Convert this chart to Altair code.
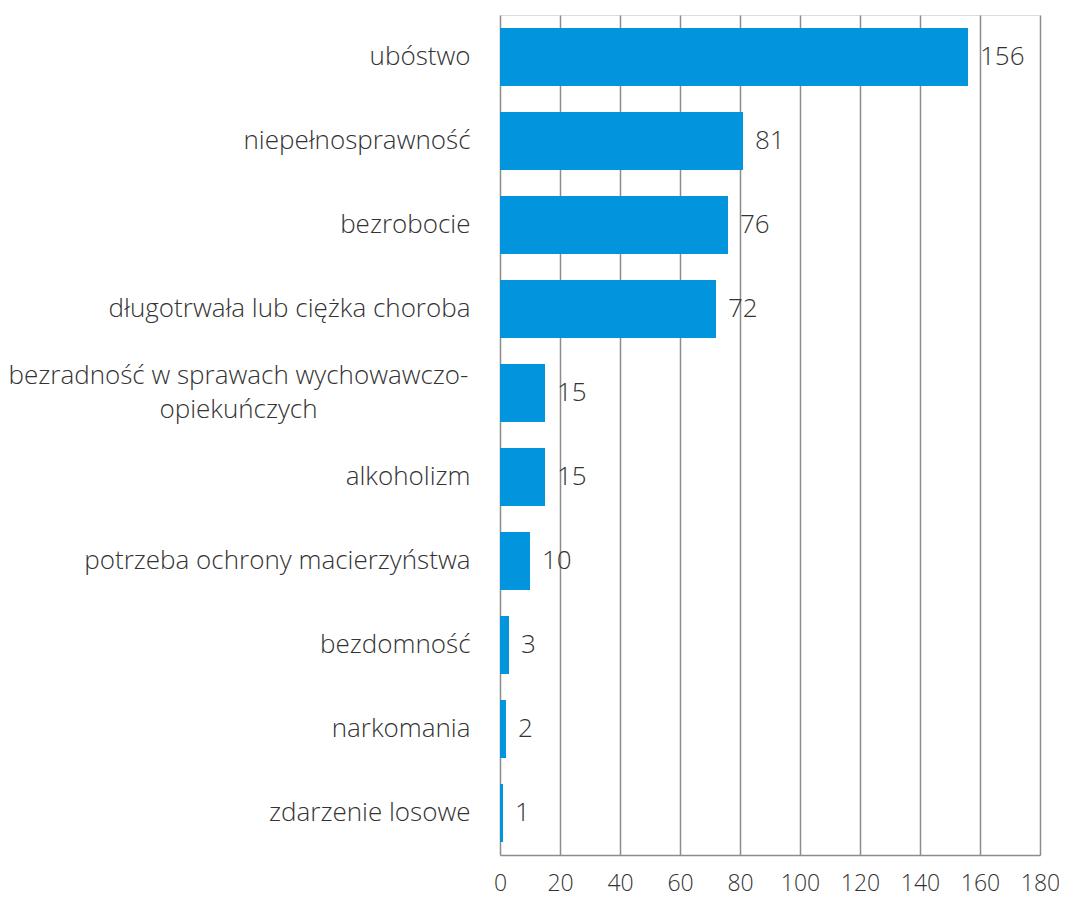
import altair as alt
import pandas as pd

categories = [
    "ubóstwo",
    "niepełnosprawność",
    "bezrobocie",
    "długotrwała lub ciężka choroba",
    "bezradność w sprawach wychowawczo-opiekuńczych",
    "alkoholizm",
    "potrzeba ochrony macierzyństwa",
    "bezdomność",
    "narkomania",
    "zdarzenie losowe",
]
values = [156, 81, 76, 72, 15, 15, 10, 3, 2, 1]
x_ticks = [0, 20, 40, 60, 80, 100, 120, 140, 160, 180]

df = pd.DataFrame({"kategoria": categories, "liczba": values})

FONT = "Open Sans"
LONG = "bezradność w sprawach wychowawczo-opiekuńczych"
IS_LONG = f"datum.value == '{LONG}'"

y_enc = alt.Y(
    "kategoria:N",
    sort=categories,
    title=None,
    scale=alt.Scale(paddingInner=0.31, paddingOuter=0.155),
    axis=alt.Axis(
        domain=False,
        ticks=False,
        grid=False,
        labelFont=FONT,
        labelFontWeight=300,
        labelFontSize=26,
        labelColor="#333333",
        labelLimit=700,
        labelPadding={"condition": {"test": IS_LONG, "value": 262}, "value": 30},
        labelAlign={"condition": {"test": IS_LONG, "value": "center"}, "value": "right"},
        labelOffset={"condition": {"test": IS_LONG, "value": -17}, "value": 0},
        labelLineHeight=34,
        labelExpr=f"datum.label == '{LONG}' ? ['bezradność w sprawach wychowawczo-', 'opiekuńczych'] : datum.label",
    ),
)

x_enc = alt.X(
    "liczba:Q",
    title=None,
    scale=alt.Scale(domain=[0, 180], nice=False),
    axis=alt.Axis(
        values=x_ticks,
        grid=True,
        gridColor="#8c8c8c",
        gridWidth=1.5,
        domain=True,
        domainColor="#8c8c8c",
        domainWidth=1.5,
        ticks=False,
        labelFont=FONT,
        labelFontWeight=300,
        labelFontSize=23,
        labelColor="#333333",
        labelPadding=17,
        labelFlush=False,
    ),
)

bars = alt.Chart(df).mark_bar(color="#0394DE").encode(y=y_enc, x=x_enc)

labels = alt.Chart(df).mark_text(
    align="left",
    baseline="middle",
    dx=12,
    font=FONT,
    fontWeight=300,
    fontSize=26,
    color="#333333",
).encode(
    y=alt.Y("kategoria:N", sort=categories),
    x=alt.X("liczba:Q"),
    text=alt.Text("liczba:Q"),
)

chart = (
    alt.layer(bars, labels)
    .properties(
        width=540,
        height=840,
        autosize=alt.AutoSizeParams(type="none"),
        padding={"left": 492, "top": 7, "right": 19, "bottom": 44},
    )
    .configure_view(stroke=None)
    .configure(background="white")
)

chart.save("out.html", embed_options={"renderer": "svg", "actions": False})
